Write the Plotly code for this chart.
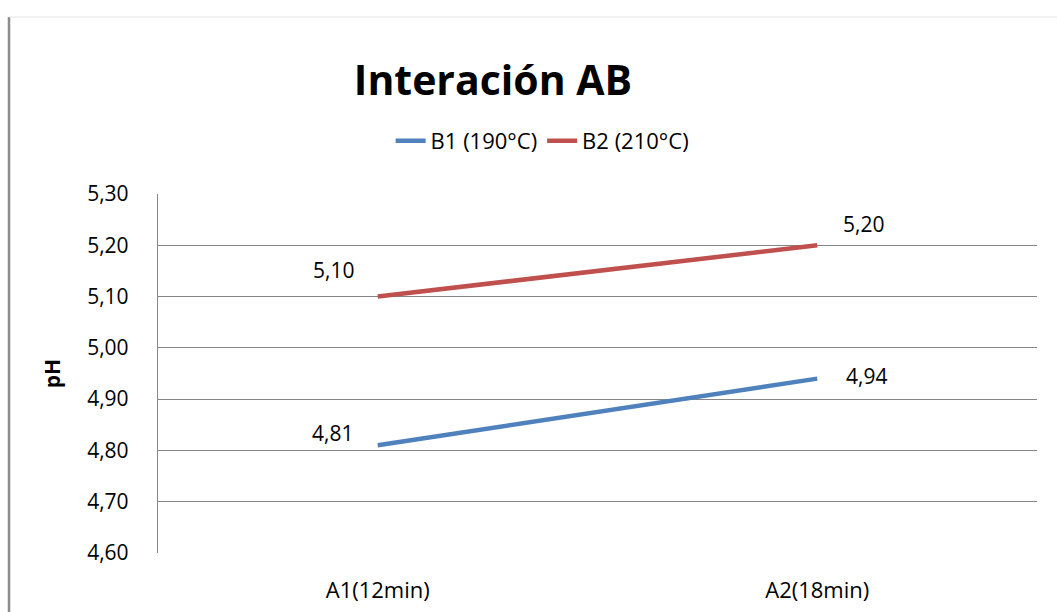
import plotly.graph_objects as go

# Interaction of time (A) and temperature (B) on pH
categories = ["A1(12min)", "A2(18min)"]
b1_values = [4.81, 4.94]
b2_values = [5.10, 5.20]
series_names = ["B1 (190°C)", "B2 (210°C)"]
y_ticks = [4.60, 4.70, 4.80, 4.90, 5.00, 5.10, 5.20, 5.30]

FONT = "Open Sans, Carlito, Calibri, sans-serif"
BLUE = "#4F81BD"
RED = "#C0504D"
GRID = "#868686"
TXT = 21
WIDE = 22

fig = go.Figure()
for name, vals, color in [(series_names[0], b1_values, BLUE),
                          (series_names[1], b2_values, RED)]:
    fig.add_trace(go.Scatter(
        x=categories, y=vals, mode="lines", name=name,
        line=dict(color=color, width=4.5),
    ))

def fmt(v):
    return f"{v:.2f}".replace(".", ",")

# value labels: left of first point, right of second point
label_offsets = {
    (0, 0): (-45, 12), (0, 1): (49, 3),
    (1, 0): (-44, 27), (1, 1): (46, 21),
}
for si, vals in enumerate([b1_values, b2_values]):
    for ci, v in enumerate(vals):
        dx, dy = label_offsets[(si, ci)]
        fig.add_annotation(
            x=categories[ci], y=v, text=fmt(v), showarrow=False,
            xshift=dx, yshift=dy,
            font=dict(family=FONT, size=TXT, color="#000000"),
        )

# outer chart border (left and top edges)
fig.add_shape(type="line", xref="paper", yref="paper",
              x0=-0.1695, x1=-0.1695, y0=1.493, y1=-0.2,
              line=dict(color="#8c8c8c", width=2.5))
fig.add_shape(type="line", xref="paper", yref="paper",
              x0=-0.1695, x1=1.1, y0=1.493, y1=1.493,
              line=dict(color="#e4e4e4", width=1.2))

fig.update_layout(
    width=1057, height=612,
    margin=dict(l=158, r=20, t=194, b=59, autoexpand=False),
    paper_bgcolor="white", plot_bgcolor="white",
    font=dict(family=FONT, size=TXT, color="#000000"),
    title=dict(text="<b>Interación AB</b>", x=493 / 1057, xref="container",
               xanchor="center", y=1 - 81 / 612, yref="container",
               yanchor="middle",
               font=dict(family=FONT, size=41, color="#000000")),
    showlegend=True,
    legend=dict(orientation="h", x=0.437, xanchor="center",
                y=1.148, yanchor="middle",
                font=dict(family=FONT, size=WIDE, color="#000000"),
                bgcolor="rgba(0,0,0,0)"),
    xaxis=dict(type="category", range=[-0.5, 1.5], automargin=False,
               showgrid=False, showline=False, zeroline=False,
               ticks="", ticklabelstandoff=22,
               tickfont=dict(family=FONT, size=WIDE)),
    yaxis=dict(range=[4.60, 5.30], tickvals=y_ticks, automargin=False,
               ticktext=[fmt(v) for v in y_ticks],
               showgrid=True, gridcolor=GRID, gridwidth=1.3,
               showline=True, linecolor=GRID, linewidth=1.3,
               zeroline=False, ticks="", ticklabelstandoff=24,
               tickfont=dict(family=FONT, size=TXT),
               title=dict(text="<b>pH</b>", standoff=20,
                          font=dict(family=FONT, size=TXT))),
)

fig.write_html("out.html")
